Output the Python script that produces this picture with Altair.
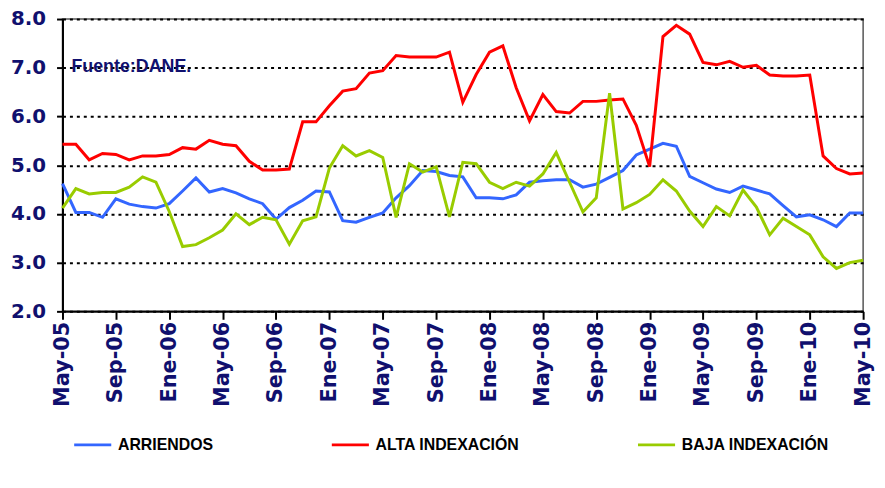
import altair as alt
import pandas as pd

# ---- data (monthly, May-05 .. May-10) ----
tick_labels = ["May-05", "Sep-05", "Ene-06", "May-06", "Sep-06", "Ene-07", "May-07",
               "Sep-07", "Ene-08", "May-08", "Sep-08", "Ene-09", "May-09", "Sep-09",
               "Ene-10", "May-10"]

series_names = ["ARRIENDOS", "ALTA INDEXACIÓN", "BAJA INDEXACIÓN"]
series_colors = ["#3366FF", "#FF0000", "#99CC00"]

arriendos = [4.62, 4.03, 4.03, 3.93, 4.31, 4.20, 4.15, 4.12, 4.21, 4.47, 4.74, 4.45,
             4.52, 4.43, 4.31, 4.21, 3.89, 4.13, 4.28, 4.47, 4.45, 3.86, 3.83, 3.93,
             4.02, 4.33, 4.58, 4.89, 4.87, 4.79, 4.76, 4.33, 4.33, 4.31, 4.39, 4.65,
             4.68, 4.70, 4.70, 4.55, 4.61, 4.75, 4.89, 5.21, 5.33, 5.45, 5.39, 4.77,
             4.64, 4.51, 4.44, 4.57, 4.49, 4.41, 4.17, 3.94, 3.98, 3.88, 3.74, 4.02,
             4.02]

alta = [5.43, 5.43, 5.11, 5.24, 5.22, 5.11, 5.19, 5.19, 5.22, 5.36, 5.33, 5.51,
        5.43, 5.40, 5.08, 4.90, 4.90, 4.92, 5.89, 5.89, 6.22, 6.52, 6.57, 6.89,
        6.94, 7.25, 7.22, 7.22, 7.22, 7.32, 6.29, 6.86, 7.32, 7.45, 6.59, 5.91,
        6.45, 6.10, 6.07, 6.31, 6.31, 6.34, 6.36, 5.82, 4.97, 7.64, 7.87, 7.69,
        7.11, 7.06, 7.13, 7.01, 7.05, 6.85, 6.83, 6.83, 6.85, 5.19, 4.93, 4.82,
        4.84]

baja = [4.12, 4.52, 4.41, 4.44, 4.44, 4.55, 4.76, 4.65, 4.05, 3.33, 3.37, 3.51,
        3.67, 4.00, 3.78, 3.93, 3.88, 3.38, 3.86, 3.94, 4.94, 5.40, 5.19, 5.30,
        5.16, 3.93, 5.03, 4.86, 4.97, 3.94, 5.06, 5.03, 4.65, 4.52, 4.65, 4.57,
        4.82, 5.26, 4.65, 4.04, 4.33, 6.48, 4.10, 4.23, 4.40, 4.70, 4.47, 4.06,
        3.74, 4.15, 3.96, 4.49, 4.14, 3.57, 3.91, 3.74, 3.57, 3.12, 2.88, 3.00,
        3.05]

source_note = "Fuente:DANE."

# ---- build table ----
rows = []
for name, vals in zip(series_names, [arriendos, alta, baja]):
    for i, v in enumerate(vals):
        rows.append({"mes": i, "serie": name, "valor": v})
df = pd.DataFrame(rows)

navy = "#10106e"
label_array = "[" + ",".join("'" + t + "'" for t in tick_labels) + "]"

lines = alt.Chart(df).mark_line(strokeWidth=3).encode(
    x=alt.X("mes:Q",
            scale=alt.Scale(domain=[0, 60], nice=False, zero=False),
            axis=alt.Axis(values=list(range(0, 61, 4)),
                          labelExpr=label_array + "[round(datum.value/4)]",
                          labelAngle=270, labelFont="DejaVu Sans",
                          labelFontWeight="bold", labelFontSize=21,
                          labelColor=navy, labelPadding=2,
                          tickSize=8, tickWidth=2, tickColor="black",
                          domainColor="black", domainWidth=2,
                          grid=False, title=None)),
    y=alt.Y("valor:Q",
            scale=alt.Scale(domain=[2, 8], nice=False, zero=False),
            axis=alt.Axis(values=[2, 3, 4, 5, 6, 7, 8], format=".1f",
                          labelFont="DejaVu Sans", labelFontWeight="bold",
                          labelFontSize=20, labelColor=navy, labelPadding=11,
                          tickSize=6, tickWidth=2, tickColor="black",
                          domainColor="black", domainWidth=2,
                          grid=True, gridColor="black", gridDash=[3, 4],
                          gridWidth=2, title=None)),
    color=alt.Color("serie:N",
                    scale=alt.Scale(domain=series_names, range=series_colors),
                    sort=series_names,
                    legend=alt.Legend(orient="none", legendX=10, legendY=409,
                                      direction="horizontal", columns=3,
                                      title=None, symbolType="stroke",
                                      symbolStrokeWidth=3, symbolSize=1400,
                                      labelFont="Liberation Sans",
                                      labelFontWeight="bold", labelFontSize=16,
                                      labelColor="black", labelOffset=5,
                                      columnPadding=112, labelLimit=300)),
)

note = alt.Chart(pd.DataFrame({"t": [source_note]})).mark_text(
    align="left", baseline="middle", font="Liberation Sans", fontWeight="bold",
    fontSize=18, color=navy
).encode(x=alt.value(9), y=alt.value(48), text="t:N")

chart = alt.layer(lines, note).properties(
    width=808, height=295,
    autosize=alt.AutoSizeParams(type="none"),
    padding={"left": 55, "top": 9, "right": 14, "bottom": 160},
    background="white",
).configure_view(stroke="#555555", strokeWidth=1.5, fill="white")

chart.save("out.html", embed_options={"renderer": "svg", "actions": False})
